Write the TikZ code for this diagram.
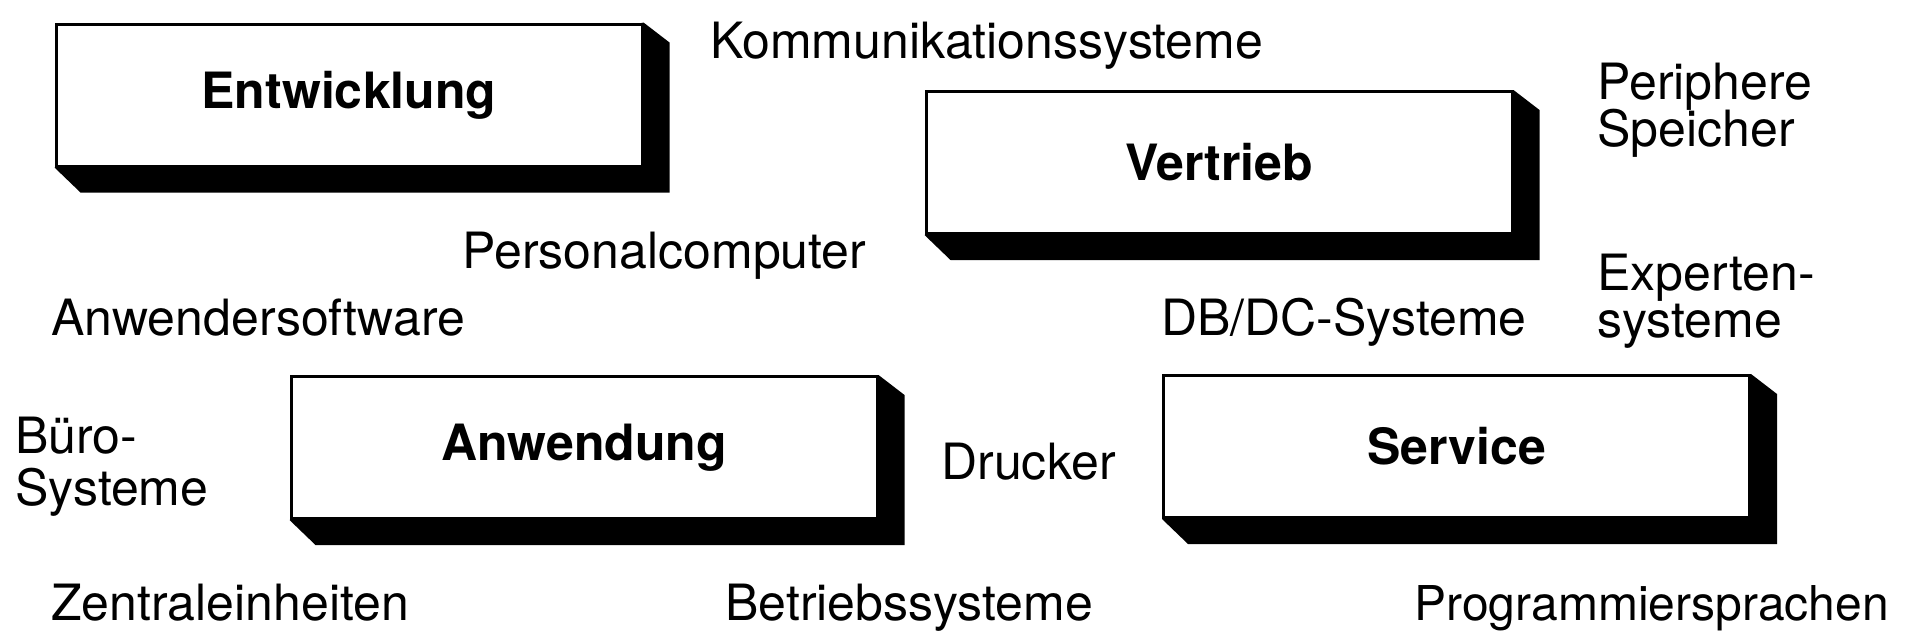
\documentclass[tikz,border=0pt]{standalone}
\usepackage{fontspec}
\setmainfont{TeX Gyre Heros}
\usetikzlibrary{backgrounds}
\newcommand\mytightlines{\lineskiplimit=-100pt\relax}
\begin{document}
\begin{tikzpicture}[x=0.5pt,y=-0.5pt,
  box/.style={draw=black, line width=1.5pt, fill=white, minimum width=293pt, minimum height=71pt, inner sep=0pt, font=\fontsize{25}{28}\selectfont\bfseries},
  lbl/.style={anchor=base west, inner sep=0pt, font={\fontsize{25}{23.5}\selectfont\mytightlines}, align=left},
  shade/.style={fill=black}]
\useasboundingbox (0,0) rectangle (1916,643);
% boxes
\node[box] (ent) at (349,95) {Entwicklung};
\node[box] (ver) at (1219,162.5) {Vertrieb};
\node[box] (anw) at (584,447.5) {Anwendung};
\node[box] (ser) at (1456.5,446.5) {Service};
\begin{scope}[on background layer]
\fill[white] (0,0) rectangle (1916,643);
\foreach \b in {ent,ver,anw,ser}{
  \fill[shade] (\b.north east) -- ++(26,20) |- ([shift={(26,25)}]\b.south west) -- (\b.south west) -- cycle;
}
\end{scope}
% labels
\node[lbl] (kom) at (710,58) {Kommunikationssysteme};
\node[lbl] (per) at (1597,146) {Periphere\\Speicher};
\node[lbl] (pc) at (462,268) {Personalcomputer};
\node[lbl] (aws) at (51,335) {Anwendersoftware};
\node[lbl] (dbdc) at (1161,335) {DB/DC-Systeme};
\node[lbl] (exp) at (1597,337) {Experten-\\systeme};
\node[lbl, font={\fontsize{25}{26}\selectfont\mytightlines}] (buero) at (15,505) {Büro-\\Systeme};
\node[lbl] (dru) at (941,479) {Drucker};
\node[lbl] (zen) at (51,620) {Zentraleinheiten};
\node[lbl] (bet) at (725,620) {Betriebssysteme};
\node[lbl, font=\fontsize{24}{26}\selectfont] (prog) at (1414,620) {Programmiersprachen};
\end{tikzpicture}
\end{document}
